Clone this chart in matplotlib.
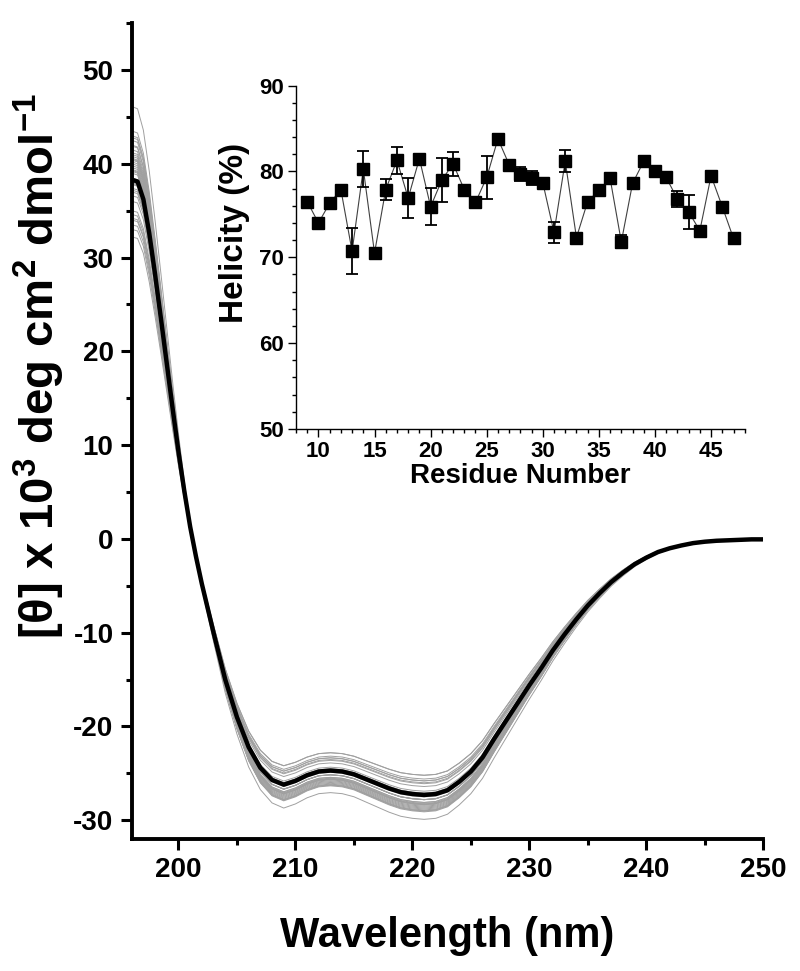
import numpy as np
import matplotlib
matplotlib.use("Agg")
import matplotlib.pyplot as plt
from matplotlib.ticker import MultipleLocator

plt.rcParams["font.family"] = ["Liberation Sans", "DejaVu Sans"]
plt.rcParams["font.weight"] = "bold"
plt.rcParams["axes.unicode_minus"] = False
plt.rcParams["mathtext.fontset"] = "custom"
plt.rcParams["mathtext.rm"] = "Liberation Sans:bold"
plt.rcParams["mathtext.bf"] = "Liberation Sans:bold"
plt.rcParams["mathtext.it"] = "Liberation Sans:bold"

# averaged CD spectrum (x 10^3 deg cm2 dmol-1)
wl = [196, 196.5, 197, 197.5, 198, 198.5, 199, 199.5, 200, 200.5, 201, 201.5,
      202, 203, 204, 205, 206, 207, 208, 209, 210, 211, 212, 213, 214, 215,
      216, 217, 218, 219, 220, 221, 222, 223, 224, 225, 226, 227, 228, 229,
      230, 231, 232, 233, 234, 235, 236, 237, 238, 239, 240, 241, 242, 243,
      244, 245, 246, 247, 248, 249, 250]
mean_cd = [38.3, 38.1, 36.2, 32.6, 28.2, 23.5, 18.7, 13.9, 9.3, 5.1, 1.3, -1.9,
           -4.8, -10.0, -15.0, -19.0, -22.2, -24.4, -25.7, -26.2, -25.8, -25.2,
           -24.8, -24.7, -24.8, -25.1, -25.6, -26.1, -26.6, -27.0, -27.2, -27.3,
           -27.2, -26.8, -25.9, -24.8, -23.3, -21.3, -19.4, -17.5, -15.6, -13.8,
           -11.9, -10.2, -8.6, -7.1, -5.8, -4.6, -3.6, -2.7, -2.0, -1.4, -1.0,
           -0.7, -0.45, -0.3, -0.2, -0.15, -0.1, -0.05, -0.05]

# helicity per residue (inset)
residue = list(range(9, 48))
helicity = [76.5, 74.0, 76.3, 77.9, 70.7, 80.3, 70.5, 77.9, 81.3, 76.9,
            81.5, 75.9, 79.0, 80.9, 77.9, 76.4, 79.3, 83.8, 80.8, 79.7,
            79.2, 78.7, 72.9, 81.2, 72.3, 76.5, 77.8, 79.2, 71.8, 78.6,
            81.2, 80.1, 79.3, 76.8, 75.3, 73.1, 79.5, 75.9, 72.2]
hel_err = [0.2, 0.4, 0.2, 0.2, 2.7, 2.1, 0.3, 1.2, 1.6, 2.3,
           0.3, 2.15, 2.6, 1.4, 0.2, 0.2, 2.45, 0.6, 0.2, 0.85,
           0.8, 0.2, 1.2, 1.3, 0.2, 0.2, 0.2, 0.2, 0.75, 0.2,
           0.6, 0.2, 0.2, 0.95, 2.0, 0.2, 0.2, 0.2, 0.2]

# individual spectra: value at 196 nm and at 221 nm (read from the gray bundle)
peak196 = [38.5, 36.0, 37.9, 39.4, 33.0, 41.5, 32.2, 39.0, 42.8, 38.2,
           43.5, 37.0, 40.2, 42.0, 39.6, 37.4, 40.8, 46.1, 41.9, 40.5,
           40.0, 39.2, 34.6, 42.5, 34.0, 38.0, 39.3, 40.6, 33.5, 39.8,
           43.0, 41.2, 40.4, 37.8, 36.6, 35.0, 41.0, 37.2, 34.2]
min221 = [-27.3, -26.4, -27.2, -27.8, -25.2, -28.7, -25.2, -27.8, -29.0, -27.5,
          -29.1, -27.1, -28.2, -28.9, -27.8, -27.3, -28.3, -29.9, -28.8, -28.5,
          -28.3, -28.1, -26.0, -29.0, -25.8, -27.3, -27.8, -28.3, -25.6, -28.1,
          -29.0, -28.6, -28.3, -27.4, -26.9, -26.1, -28.4, -27.1, -25.8]

fig = plt.figure(figsize=(8.0, 9.71), dpi=100)
ax = fig.add_axes([0.1646, 0.1359, 0.7895, 0.8404])

wl_a = np.array(wl)
m = np.array(mean_cd)
i221 = wl.index(221)
for p, q in zip(peak196, min221):
    spec = np.where(m > 0, m * p / mean_cd[0], m * q / mean_cd[i221])
    ax.plot(wl_a, spec, color="#a0a0a0", lw=0.7, zorder=1)
ax.plot(wl_a, m, color="black", lw=3.2, zorder=3)

ax.set_xlim(196, 250)
ax.set_ylim(-32, 55)
ax.xaxis.set_major_locator(MultipleLocator(10))
ax.xaxis.set_minor_locator(MultipleLocator(5))
ax.yaxis.set_major_locator(MultipleLocator(10))
ax.yaxis.set_minor_locator(MultipleLocator(5))
for s in ("top", "right"):
    ax.spines[s].set_visible(False)
for s in ("left", "bottom"):
    ax.spines[s].set_linewidth(2.8)
ax.tick_params(which="major", length=8, width=2.2, labelsize=20, pad=5)
ax.tick_params(which="minor", length=4.5, width=2.2)
ax.set_xlabel("Wavelength (nm)", fontsize=30, fontweight="bold", labelpad=24)
ax.set_ylabel(r"[θ] x 10$^{3}$ deg cm$^{2}$ dmol$^{-1}$", fontsize=34,
              fontweight="bold")
ax.yaxis.set_label_coords(-0.102, 0.58)

# inset
ins = fig.add_axes([0.37, 0.5582, 0.5609, 0.3536])
ins.errorbar(residue, helicity, yerr=hel_err, fmt="s", color="black",
             ms=8, ecolor="black", elinewidth=1.3, capsize=4, capthick=1.3, zorder=3)
ins.plot(residue, helicity, color="#404040", lw=0.8, zorder=2)
ins.set_xlim(8, 48)
ins.set_ylim(50, 90)
ins.xaxis.set_major_locator(MultipleLocator(5))
ins.xaxis.set_minor_locator(MultipleLocator(1))
ins.yaxis.set_major_locator(MultipleLocator(10))
ins.yaxis.set_minor_locator(MultipleLocator(2))
for s in ("top", "right"):
    ins.spines[s].set_visible(False)
for s in ("left", "bottom"):
    ins.spines[s].set_linewidth(1.0)
ins.tick_params(which="major", length=5.5, width=1.0, labelsize=16, pad=3)
ins.tick_params(which="minor", length=3, width=1.0)
ins.set_xlabel("Residue Number", fontsize=20, fontweight="bold", labelpad=1)
ins.set_ylabel("Helicity (%)", fontsize=24, fontweight="bold")
ins.yaxis.set_label_coords(-0.103, 0.57)

fig.savefig("out.png", dpi=100)
